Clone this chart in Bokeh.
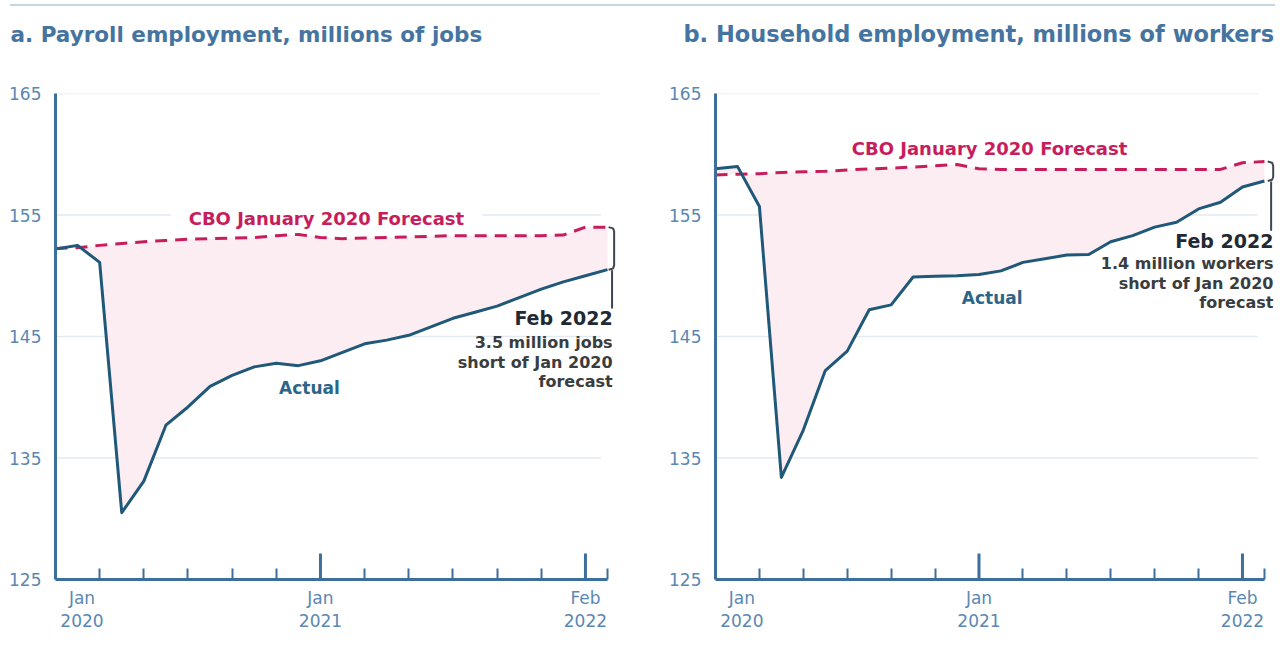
from bokeh.plotting import figure
from bokeh.models import Range1d, FixedTicker, Label, Div, Title
from bokeh.layouts import column, row
from bokeh.embed import file_html
from bokeh.resources import INLINE

months = list(range(26))

payroll_actual = [152.2, 152.5, 151.1, 130.5, 133.1, 137.7, 139.2, 140.9, 141.8, 142.5,
                  142.8, 142.6, 143.0, 143.7, 144.4, 144.7, 145.1, 145.8, 146.5, 147.0,
                  147.5, 148.2, 148.9, 149.5, 150.0, 150.5]
payroll_forecast = [152.25, 152.3, 152.5, 152.65, 152.8, 152.9, 153.0, 153.05, 153.1, 153.15,
                    153.3, 153.4, 153.15, 153.05, 153.1, 153.15, 153.2, 153.25, 153.3, 153.3,
                    153.3, 153.3, 153.3, 153.35, 154.0, 154.0]

household_actual = [158.8, 159.0, 155.7, 133.4, 137.3, 142.2, 143.8, 147.2, 147.6, 149.9,
                    149.95, 150.0, 150.1, 150.4, 151.1, 151.4, 151.7, 151.75, 152.8, 153.3,
                    154.0, 154.4, 155.5, 156.05, 157.3, 157.8]
household_forecast = [158.3, 158.35, 158.4, 158.5, 158.55, 158.6, 158.7, 158.8, 158.85, 158.95,
                      159.05, 159.15, 158.8, 158.75, 158.75, 158.75, 158.75, 158.75, 158.75, 158.75,
                      158.75, 158.75, 158.75, 158.75, 159.3, 159.4]

y_ticks = [125, 135, 145, 155, 165]
grid_values = [135, 145, 155, 165]
label_x_ticks = [1.2, 12, 24]
tall_x_ticks = [12, 24]
minor_x_ticks = [2, 4, 6, 8, 10, 14, 16, 18, 20, 22, 25]
x_tick_labels = {1.2: "Jan\n2020", 12: "Jan\n2021", 24: "Feb\n2022"}

titles = ["a. Payroll employment, millions of jobs",
          "b. Household employment, millions of workers"]
forecast_label = "CBO January 2020 Forecast"
actual_label = "Actual"
note_head = "Feb 2022"
notes = [["3.5 million jobs", "short of Jan 2020", "forecast"],
         ["1.4 million workers", "short of Jan 2020", "forecast"]]

FONT = "DejaVu Sans"
AXIS_C = "#3d6f9c"
TICK_TXT = "#5a87b3"
GRID_C = "#e2eaf1"
ACT_C = "#1f5878"
FC_C = "#c81d5c"
FILL_C = "#fbedf2"
TITLE_C = "#4574a0"
DARK = "#1f2a34"
SUB = "#3a3d40"


def panel(actual, forecast, title, title_size, width, left, right, x_end, note_lines,
          fc_pos, act_pos, note_x, note_ys, title_off, bracket_x):
    p = figure(width=width, height=640, output_backend="svg", toolbar_location=None,
               x_range=Range1d(0, x_end), y_range=Range1d(125, 165),
               min_border_left=left, min_border_right=right,
               min_border_top=87, min_border_bottom=67)
    p.outline_line_color = None
    p.grid.visible = False

    # spacer between the frame and the title
    p.add_layout(Title(text=" ", text_font_size="8px", standoff=36), "above")

    p.title.text = title
    p.title.text_font = FONT
    p.title.text_font_size = title_size
    p.title.text_font_style = "bold"
    p.title.text_color = TITLE_C
    p.title.align = "left"
    p.title.offset = title_off
    p.title.standoff = 0

    # grid lines
    p.segment(x0=[0] * len(grid_values), y0=grid_values, x1=[24.7] * len(grid_values),
              y1=grid_values, line_color=GRID_C, line_width=1.5)

    # shaded gap
    p.varea(x=months, y1=actual, y2=forecast, fill_color=FILL_C)
    p.line(months, forecast, line_color=FC_C, line_width=3, line_dash="12 8")
    p.line(months, actual, line_color=ACT_C, line_width=3, line_join="round")

    # taller year ticks
    p.segment(x0=tall_x_ticks, y0=[125] * 2, x1=tall_x_ticks, y1=[127.15] * 2,
              line_color=AXIS_C, line_width=3)

    # bracket and leader
    top, bot = forecast[-1], actual[-1]
    bx0, bx1 = bracket_x
    p.line([bx0, bx1 - 0.05, bx1, bx1, bx1 - 0.05, bx0],
           [top, top - 0.1, top - 0.35, bot + 0.35, bot + 0.1, bot],
           line_color="#3f4650", line_width=2)
    lx = (bx0 + bx1) / 2 + 0.03
    p.line([lx, lx], [bot - 0.05, note_ys[0] + 0.8], line_color="#3f4650", line_width=2)

    # axes
    p.yaxis.ticker = FixedTicker(ticks=y_ticks)
    p.yaxis.axis_line_color = AXIS_C
    p.yaxis.axis_line_width = 3
    p.yaxis.major_tick_line_color = None
    p.yaxis.minor_tick_line_color = None
    p.yaxis.major_label_text_font = FONT
    p.yaxis.major_label_text_font_size = "17px"
    p.yaxis.major_label_text_color = TICK_TXT
    p.yaxis.major_label_standoff = 8

    p.xaxis.ticker = FixedTicker(ticks=label_x_ticks, minor_ticks=minor_x_ticks)
    p.xaxis.bounds = (0, 25)
    p.xaxis.major_label_overrides = x_tick_labels
    p.xaxis.axis_line_color = AXIS_C
    p.xaxis.axis_line_width = 3
    p.xaxis.major_tick_line_color = None
    p.xaxis.major_tick_in = 0
    p.xaxis.major_tick_out = 0
    p.xaxis.minor_tick_line_color = AXIS_C
    p.xaxis.minor_tick_line_width = 2
    p.xaxis.minor_tick_in = 11
    p.xaxis.minor_tick_out = 0
    p.xaxis.major_label_text_font = FONT
    p.xaxis.major_label_text_font_size = "17px"
    p.xaxis.major_label_text_color = TICK_TXT
    p.xaxis.major_label_text_line_height = 1.15
    p.xaxis.major_label_standoff = 8

    p.add_layout(Label(x=fc_pos[0], y=fc_pos[1], text=forecast_label, text_font=FONT,
                       text_font_size="18px", text_font_style="bold", text_color=FC_C,
                       text_align="center", text_baseline="middle",
                       background_fill_color="white", padding=(18, 2)))
    p.add_layout(Label(x=act_pos[0], y=act_pos[1], text=actual_label, text_font=FONT,
                       text_font_size="17px", text_font_style="bold", text_color="#2b6688",
                       text_align="center", text_baseline="middle"))

    p.add_layout(Label(x=note_x, y=note_ys[0], text=note_head, text_font=FONT,
                       text_font_size="19px", text_font_style="bold", text_color=DARK,
                       text_align="right", text_baseline="middle"))
    for t, yy in zip(note_lines, note_ys[1:]):
        p.add_layout(Label(x=note_x, y=yy, text=t, text_font=FONT,
                           text_font_size="16px", text_font_style="bold", text_color=SUB,
                           text_align="right", text_baseline="middle"))
    return p


pa = panel(payroll_actual, payroll_forecast, titles[0], "21.5px", 640, 55, 12, 25.95,
           notes[0], (12.27, 154.7), (11.5, 140.8), 25.23, [146.5, 144.5, 142.85, 141.3],
           -45, (25.05, 25.3))
pb = panel(household_actual, household_forecast, titles[1], "22.5px", 640, 75, 4, 25.55,
           notes[1], (12.48, 160.5), (12.6, 148.2), 25.41, [152.9, 151.0, 149.4, 147.8],
           -32, (25.15, 25.4))

rule = Div(text="", width=1265, height=2, margin=(4, 0, 0, 10),
           styles={"background-color": "#c6d5e2"})
layout = column(rule, row(pa, pb))

open("out.html", "w").write(file_html(layout, INLINE))
